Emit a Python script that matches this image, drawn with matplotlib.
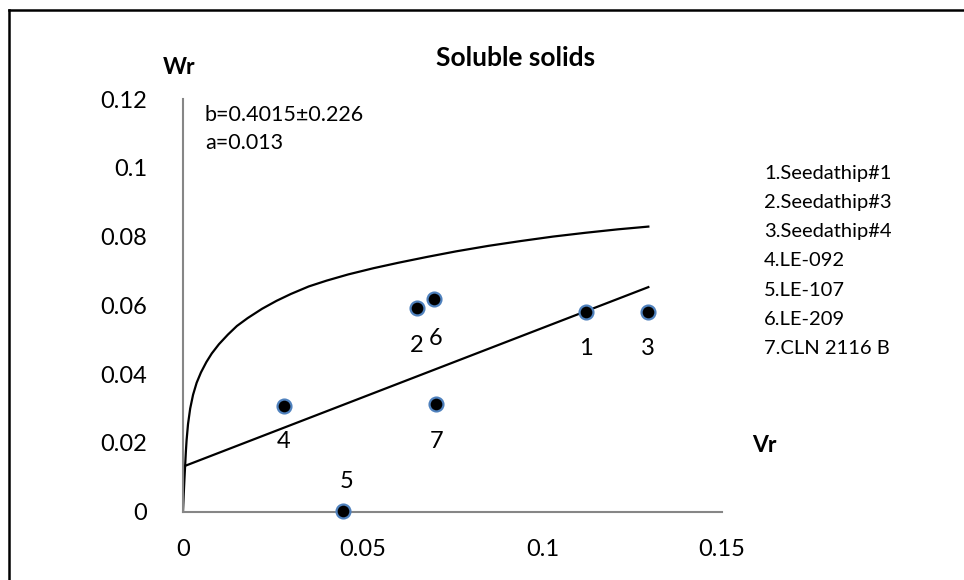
import numpy as np
import matplotlib
matplotlib.use('Agg')
import matplotlib.pyplot as plt
from matplotlib.lines import Line2D

plt.rcParams['font.family'] = ['Lato', 'DejaVu Sans']

# genotypes (point number -> name)
ids = ['1', '2', '3', '4', '5', '6', '7']
names = ['Seedathip#1', 'Seedathip#3', 'Seedathip#4', 'LE-092', 'LE-107', 'LE-209', 'CLN 2116 B']
vr = [0.1121, 0.0651, 0.1295, 0.0281, 0.0446, 0.0699, 0.0705]
wr = [0.0582, 0.0591, 0.0582, 0.0308, 0.0002, 0.0618, 0.0313]

# regression line Wr = a + b*Vr, end points
reg_x = [0.0, 0.1295]
reg_y = [0.0131, 0.0653]

# limiting curve, points
curve_x = [0.0, 0.0002, 0.0004, 0.0006, 0.0008, 0.0010, 0.0014, 0.0020, 0.0028,
           0.0038, 0.0050, 0.0065, 0.0080, 0.0100, 0.0125, 0.0150, 0.0180,
           0.0220, 0.0260, 0.0300, 0.0350, 0.0400, 0.0460, 0.0530, 0.0600,
           0.0680, 0.0760, 0.0850, 0.0940, 0.1030, 0.1120, 0.1210, 0.1295]
curve_y = [0.0, 0.0050, 0.0095, 0.0135, 0.0175, 0.0208, 0.0255, 0.0300, 0.0340,
           0.0375, 0.0405, 0.0435, 0.0460, 0.0487, 0.0515, 0.0540, 0.0563,
           0.0590, 0.0613, 0.0633, 0.0655, 0.0672, 0.0690, 0.0708, 0.0724,
           0.0741, 0.0757, 0.0773, 0.0787, 0.0800, 0.0811, 0.0821, 0.0829]

xticks = [0, 0.05, 0.1, 0.15]
xticklabels = ['0', '0.05', '0.1', '0.15']
yticks = [0, 0.02, 0.04, 0.06, 0.08, 0.1, 0.12]
yticklabels = ['0', '0.02', '0.04', '0.06', '0.08', '0.1', '0.12']

# label offsets in pixels (x, y)
lab_off = [(0, -37), (0, -37), (0, -37), (0, -36), (3, 30), (1, -39), (0, -37)]

fig = plt.figure(figsize=(9.64, 5.8), dpi=100)
ax = fig.add_axes([183/964, 1-511.7/580, (722-183)/964, (511.7-99)/580])

ax.plot(curve_x, curve_y, color='black', lw=1.6, solid_joinstyle='round')
ax.plot(reg_x, reg_y, color='black', lw=1.6)
ax.plot(vr, wr, 'o', ms=10, mfc='black', mec='#4F81BD', mew=1.6, zorder=5, clip_on=False)

for i in range(len(ids)):
    ax.annotate(ids[i], (vr[i], wr[i]), xytext=lab_off[i], textcoords='offset pixels',
                ha='center', va='center', fontsize=17)

ax.set_xlim(0, 0.15)
ax.set_ylim(0, 0.12)
ax.set_xticks(xticks)
ax.set_xticklabels(xticklabels)
ax.set_yticks(yticks)
ax.set_yticklabels(yticklabels)
ax.tick_params(length=0, labelsize=17)
ax.tick_params(axis='y', pad=26)
ax.tick_params(axis='x', pad=20)
for s in ['top', 'right']:
    ax.spines[s].set_visible(False)
for s in ['left', 'bottom']:
    ax.spines[s].set_color('#868686')
    ax.spines[s].set_linewidth(1.5)

fig.text(516/964, 1-58/580, 'Soluble solids', ha='center', va='center', fontsize=19, fontweight='bold')
fig.text(179/964, 1-68/580, 'Wr', ha='center', va='center', fontsize=16.5, fontweight='bold')
fig.text(764/964, 1-446/580, 'Vr', ha='center', va='center', fontsize=16.5, fontweight='bold')
fig.text(205/964, 1-115/580, 'b=0.4015\u00b10.226', ha='left', va='center', fontsize=15.5)
fig.text(205/964, 1-143/580, 'a=0.013', ha='left', va='center', fontsize=15.5)

for i in range(len(ids)):
    fig.text(764/964, 1-(173.3+29.2*i)/580, ids[i] + '.' + names[i], ha='left', va='center', fontsize=14.5)

# chart frame (top and left edges visible)
fig.add_artist(Line2D([8.5/964, 1], [1-9.5/580, 1-9.5/580], transform=fig.transFigure, color='black', lw=1.8))
fig.add_artist(Line2D([8.5/964, 8.5/964], [0, 1-9.5/580], transform=fig.transFigure, color='black', lw=1.8))

fig.savefig('out.png', dpi=100)
